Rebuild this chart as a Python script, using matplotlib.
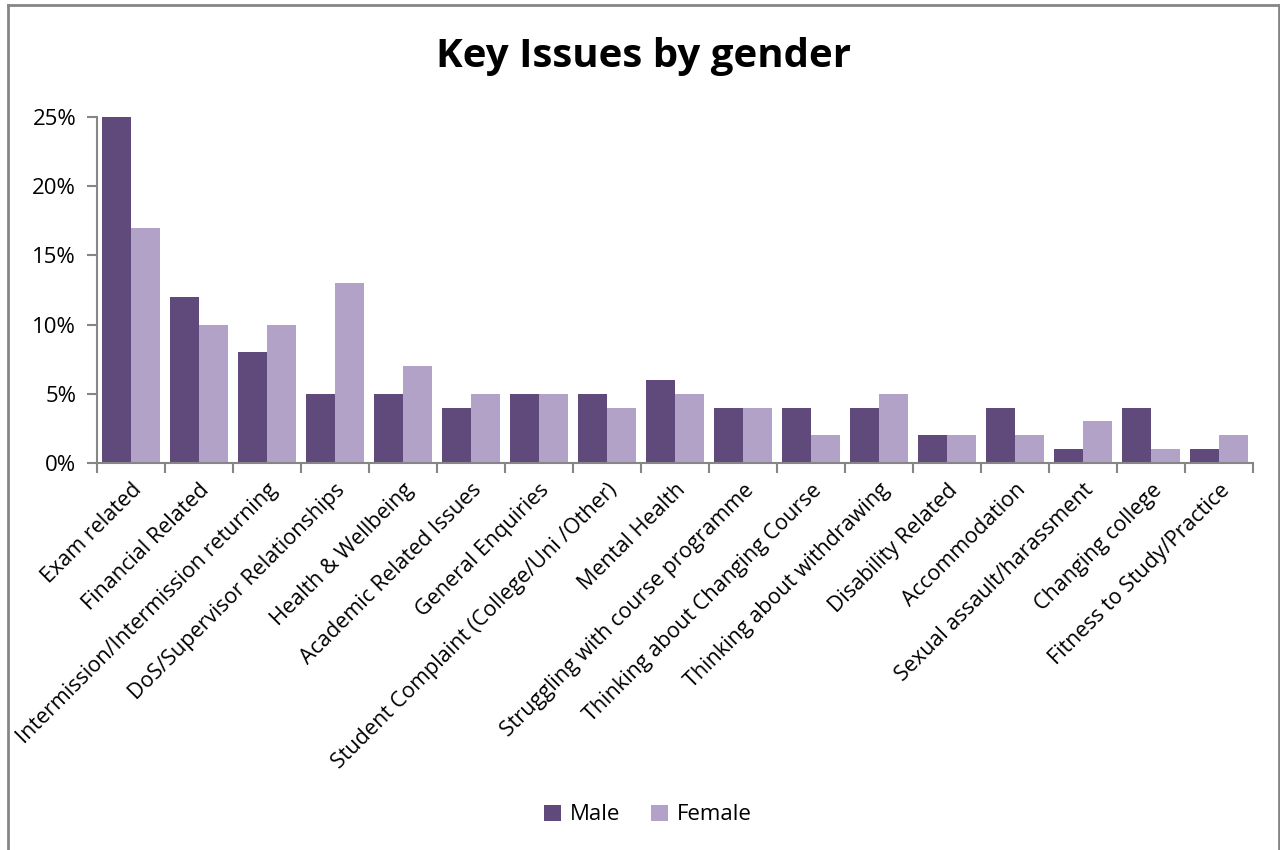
import numpy as np
import matplotlib.pyplot as plt
from matplotlib.lines import Line2D
from matplotlib.ticker import PercentFormatter

plt.rcParams['font.family'] = ['Open Sans', 'DejaVu Sans']

categories = ['Exam related', 'Financial Related', 'Intermission/Intermission returning',
              'DoS/Supervisor Relationships', 'Health & Wellbeing', 'Academic Related Issues',
              'General Enquiries', 'Student Complaint (College/Uni /Other)', 'Mental Health',
              'Struggling with course programme', 'Thinking about Changing Course',
              'Thinking about withdrawing', 'Disability Related', 'Accommodation',
              'Sexual assault/harassment', 'Changing college', 'Fitness to Study/Practice']
male = [25, 12, 8, 5, 5, 4, 5, 5, 6, 4, 4, 4, 2, 4, 1, 4, 1]
female = [17, 10, 10, 13, 7, 5, 5, 4, 5, 4, 2, 5, 2, 2, 3, 1, 2]

male_c = '#604a7b'
female_c = '#b3a2c7'
axis_c = '#868686'

fig = plt.figure(figsize=(12.8, 8.5), dpi=100)
ax = fig.add_axes([97 / 1280, 1 - 463 / 850, 1156 / 1280, 346 / 850])

x = np.arange(len(categories))
w = 0.425
ax.bar(x - w / 2, male, w, color=male_c, label='Male')
ax.bar(x + w / 2, female, w, color=female_c, label='Female')

ax.set_xlim(-0.5, len(categories) - 0.5)
ax.set_ylim(0, 25)
ax.set_yticks(np.arange(0, 26, 5))
ax.yaxis.set_major_formatter(PercentFormatter(decimals=0))

ax.set_xticks(x)
ax.set_xticks(np.arange(-0.5, len(categories)), minor=True)
ax.set_xticklabels(categories, rotation=45, ha='right', rotation_mode='anchor', fontsize=15.5)
ax.tick_params(axis='x', which='major', length=0, pad=12)
ax.tick_params(axis='x', which='minor', length=7, color=axis_c, width=1.5)
ax.tick_params(axis='y', length=7, color=axis_c, width=1.5, labelsize=16, pad=8)

for s in ('top', 'right'):
    ax.spines[s].set_visible(False)
for s in ('left', 'bottom'):
    ax.spines[s].set_color(axis_c)
    ax.spines[s].set_linewidth(1.5)

fig.text(0.503, 1 - 57 / 850, 'Key Issues by gender', ha='center', va='center',
         fontsize=29, fontweight='bold')

fig.legend(loc='center', bbox_to_anchor=(648 / 1280, 1 - 815 / 850), ncol=2,
           frameon=False, fontsize=16, handlelength=0.75, handleheight=0.75,
           columnspacing=1.4, handletextpad=0.4)

# outer chart border
for xs, ys in [([8 / 1280, 8 / 1280], [0, 1 - 5 / 850]),
               ([8 / 1280, 1279 / 1280], [1 - 5 / 850, 1 - 5 / 850]),
               ([1279 / 1280, 1279 / 1280], [0, 1 - 5 / 850])]:
    fig.add_artist(Line2D(xs, ys, color=axis_c, lw=2))

fig.savefig('out.png', dpi=100)
